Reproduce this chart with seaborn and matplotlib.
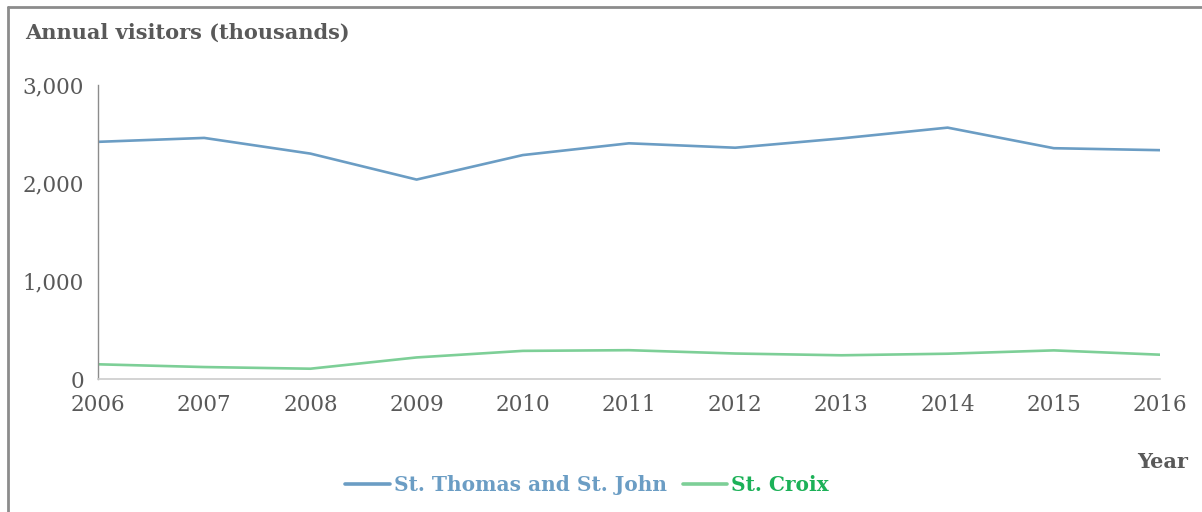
import pandas as pd
import seaborn as sns
import matplotlib.pyplot as plt
from matplotlib.lines import Line2D
from matplotlib.ticker import FuncFormatter

# data (thousands of visitors)
years = [2006, 2007, 2008, 2009, 2010, 2011, 2012, 2013, 2014, 2015, 2016]
st_thomas_john = [2420, 2460, 2300, 2035, 2285, 2405, 2360, 2455, 2565, 2355, 2335]
st_croix = [150, 122, 105, 220, 287, 294, 260, 242, 258, 292, 248]
series_names = ["St. Thomas and St. John", "St. Croix"]

df = pd.DataFrame({
    "Year": years * 2,
    "Visitors": st_thomas_john + st_croix,
    "Island": [series_names[0]] * len(years) + [series_names[1]] * len(years),
})

sns.set_style("white")
plt.rcParams["font.family"] = ["DejaVu Serif"]

line_colors = ["#6b9dc4", "#7dcf97"]
text_colors = ["#6b9dc4", "#1cb158"]
grey = "#595959"

fig = plt.figure(figsize=(12.02, 5.12), dpi=100)
ax = fig.add_axes([98 / 1202, 1 - 379 / 512, (1160 - 98) / 1202, (379 - 85) / 512])

sns.lineplot(data=df, x="Year", y="Visitors", hue="Island",
             palette=line_colors, linewidth=1.9, ax=ax, legend=False)

ax.set_xlim(2006, 2016)
ax.set_ylim(0, 3000)
ax.set_xticks(years)
ax.set_yticks([0, 1000, 2000, 3000])
ax.yaxis.set_major_formatter(FuncFormatter(lambda v, p: f"{int(v):,}"))
ax.tick_params(axis="both", length=0, labelsize=15.5, colors=grey)
ax.tick_params(axis="x", pad=11)
ax.tick_params(axis="y", pad=10)
ax.set_xlabel("")
ax.set_ylabel("")

for s in ["top", "right"]:
    ax.spines[s].set_visible(False)
ax.spines["left"].set_color("#8c8c8c")
ax.spines["left"].set_linewidth(1)
ax.spines["bottom"].set_color("#cccccc")
ax.spines["bottom"].set_linewidth(1.2)

# titles
fig.text(25 / 1202, 1 - 33 / 512, "Annual visitors (thousands)", fontsize=15,
         fontweight="bold", color=grey, ha="left", va="center")
fig.text(1163 / 1202, 1 - 462 / 512, "Year", fontsize=15,
         fontweight="bold", color=grey, ha="center", va="center")

# legend
handles = [Line2D([], [], color=c, linewidth=2.6) for c in line_colors]
leg = fig.legend(handles, series_names, loc="center", ncol=2,
                 bbox_to_anchor=(587 / 1202, 1 - 485 / 512), frameon=False,
                 handlelength=2.2, handletextpad=0.2, columnspacing=0.8,
                 prop={"size": 14.5, "weight": "bold"})
for t, c in zip(leg.get_texts(), text_colors):
    t.set_color(c)

# border (top and left edges)
fig.add_artist(Line2D([8 / 1202, 8 / 1202], [0, 1 - 7 / 512],
                      transform=fig.transFigure, color="#8c8c8c", linewidth=2))
fig.add_artist(Line2D([8 / 1202, 1], [1 - 7 / 512, 1 - 7 / 512],
                      transform=fig.transFigure, color="#8c8c8c", linewidth=2))

fig.savefig("out.png", dpi=100)
